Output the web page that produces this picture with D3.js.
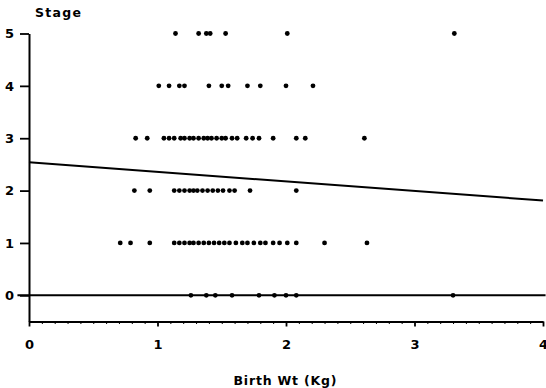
<!DOCTYPE html>
<html>
<head>
<meta charset="utf-8">
<script src="https://cdn.jsdelivr.net/npm/d3@7"></script>
<style>
  html, body { margin: 0; padding: 0; background: #fff; }
  svg { display: block; }
  text { font-family: "DejaVu Sans", "Liberation Sans", sans-serif; font-weight: bold; fill: #000; }
</style>
</head>
<body>
<svg id="chart" width="546" height="388"></svg>
<script>
// ---- data (birth weight in kg for each stage) ----
const stage5Wt = [1.14, 1.32, 1.38, 1.41, 1.53, 2.01, 3.31];
const stage4Wt = [1.01, 1.09, 1.17, 1.21, 1.40, 1.50, 1.55, 1.70, 1.80, 2.00, 2.21];
const stage3Wt = [0.83, 0.92, 1.05, 1.09, 1.13, 1.18, 1.21, 1.25, 1.28, 1.32, 1.36, 1.39,
                  1.42, 1.46, 1.50, 1.53, 1.58, 1.62, 1.69, 1.74, 1.79, 1.90, 2.08, 2.15, 2.61];
const stage2Wt = [0.82, 0.94, 1.13, 1.17, 1.21, 1.25, 1.28, 1.31, 1.35, 1.39, 1.43, 1.47,
                  1.51, 1.56, 1.60, 1.72, 2.08];
const stage1Wt = [0.71, 0.79, 0.94, 1.13, 1.17, 1.21, 1.25, 1.28, 1.32, 1.36, 1.40, 1.44,
                  1.48, 1.52, 1.56, 1.61, 1.66, 1.70, 1.75, 1.80, 1.84, 1.90, 1.95, 2.01,
                  2.08, 2.30, 2.63];
const stage0Wt = [1.26, 1.38, 1.45, 1.58, 1.79, 1.91, 2.00, 2.08, 3.30];
const stageValues = [0, 1, 2, 3, 4, 5];
const xTicks = [0, 1, 2, 3, 4];
const trendLine = [[0, 2.54], [4, 1.81]];
const zeroLine = [[-0.09, 0], [4.02, 0]];
const yLabel = "Stage";
const xLabel = "Birth Wt (Kg)";

const groups = [stage0Wt, stage1Wt, stage2Wt, stage3Wt, stage4Wt, stage5Wt];
const points = [];
groups.forEach((arr, s) => arr.forEach(w => points.push({ wt: w, stage: s })));

// ---- scales ----
const svg = d3.select("#chart");
const x = d3.scaleLinear().domain([0, 4]).range([29, 543]);
const y = d3.scaleLinear().domain([-0.5, 5]).range([321.5, 33.5]);

// ---- axes ----
const yAxis = svg.append("g").attr("transform", `translate(${x(0)},0)`)
  .call(d3.axisLeft(y).tickValues(stageValues).tickSize(9).tickSizeOuter(0).tickPadding(6).tickFormat(d3.format("d")));
const xAxis = svg.append("g").attr("transform", `translate(0,${y(-0.5)})`)
  .call(d3.axisBottom(x).tickValues(xTicks).tickSize(5).tickSizeOuter(0).tickPadding(13).tickFormat(d3.format("d")));
const minor = d3.range(1, 40).filter(i => i % 10 !== 0).map(i => i / 10);
svg.append("g").attr("transform", `translate(0,${y(-0.5)})`)
  .call(d3.axisBottom(x).tickValues(minor).tickSize(2.5).tickSizeOuter(0).tickFormat(""))
  .select(".domain").remove();

[yAxis, xAxis].forEach(g => {
  g.select(".domain").attr("stroke", "#000").attr("stroke-width", 2);
  g.selectAll(".tick line").attr("stroke", "#000").attr("stroke-width", 1.8);
  g.selectAll(".tick text").style("font-size", "13px").style("font-weight", "bold")
    .style("font-family", "'DejaVu Sans', sans-serif").attr("fill", "#000");
});
svg.selectAll("g .tick line").attr("stroke", "#000");

// ---- reference and trend lines ----
const line = d3.line().x(d => x(d[0])).y(d => y(d[1]));
svg.append("path").datum(zeroLine).attr("d", line)
  .attr("fill", "none").attr("stroke", "#000").attr("stroke-width", 2);
svg.append("path").datum(trendLine).attr("d", line)
  .attr("fill", "none").attr("stroke", "#000").attr("stroke-width", 2);

// ---- points ----
svg.append("g").selectAll("circle").data(points).join("circle")
  .attr("cx", d => x(d.wt)).attr("cy", d => y(d.stage))
  .attr("r", 2.4).attr("fill", "#000");

// ---- labels ----
svg.append("text").attr("x", 35).attr("y", 17)
  .style("font-size", "12.5px").attr("textLength", 46).text(yLabel);
svg.append("text").attr("x", 285).attr("y", 385).attr("text-anchor", "middle")
  .style("font-size", "12.5px").attr("textLength", 103).text(xLabel);
</script>
</body>
</html>
